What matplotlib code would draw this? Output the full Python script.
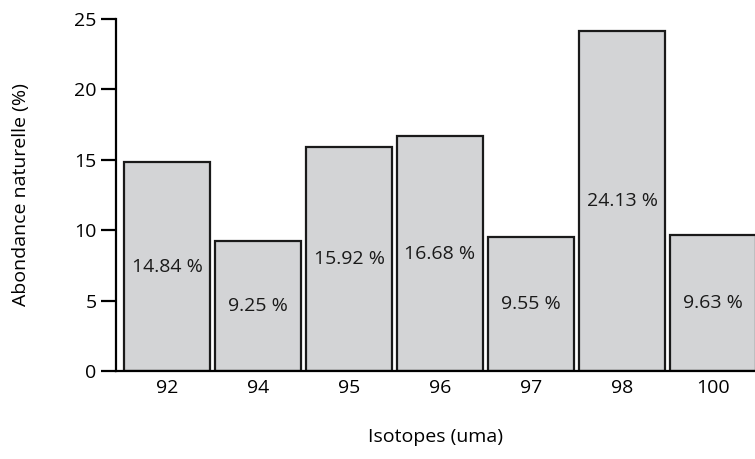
import numpy as np
import matplotlib.pyplot as plt

isotopes = ['92', '94', '95', '96', '97', '98', '100']
abundance = [14.84, 9.25, 15.92, 16.68, 9.55, 24.13, 9.63]
labels = ['14.84 %', '9.25 %', '15.92 %', '16.68 %', '9.55 %', '24.13 %', '9.63 %']


def main():
    plt.rcParams['font.family'] = ['Open Sans', 'DejaVu Sans']
    fig = plt.figure(figsize=(7.55, 4.59), dpi=100)
    ax = fig.add_axes([116/755, 1 - 371/459, 1 - 116/755, (371 - 19)/459])

    x = np.arange(len(isotopes))
    ax.bar(x, abundance, width=0.945, color='#d3d4d6', edgecolor='#1a1a1a', linewidth=1.6)

    #labels in the middle of each bar
    for xi, v, lab in zip(x, abundance, labels):
        ax.text(xi, v/2, lab, ha='center', va='center', fontsize=14, color='#1a1a1a')

    ax.set_xlim(-0.56, 6.46)
    ax.set_ylim(0, 25)
    ax.set_yticks([0, 5, 10, 15, 20, 25])
    ax.set_xticks(x)
    ax.set_xticklabels(isotopes)
    ax.tick_params(axis='x', length=0, pad=6, labelsize=14)
    ax.tick_params(axis='y', length=11, width=1.6, labelsize=14, pad=3)
    for s in ['top', 'right']:
        ax.spines[s].set_visible(False)
    for s in ['left', 'bottom']:
        ax.spines[s].set_linewidth(1.6)
    ax.set_ylabel('Abondance naturelle (%)', fontsize=14, labelpad=32)
    ax.set_xlabel('Isotopes (uma)', fontsize=14, labelpad=22)

    fig.savefig('out.png', dpi=100)


if __name__ == "__main__":
    main()
